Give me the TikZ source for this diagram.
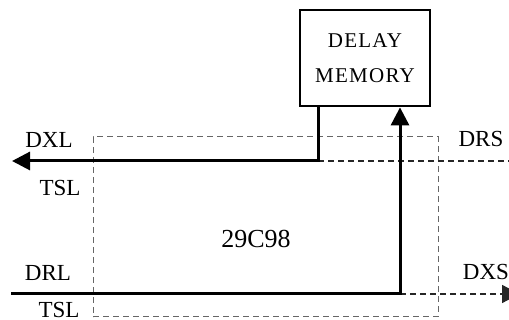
\documentclass[tikz,border=0pt]{standalone}
\usepackage{fontspec}
\setmainfont{Liberation Serif}
\usetikzlibrary{arrows.meta,positioning}

\begin{document}
\begin{tikzpicture}[x=0.5pt, y=-0.5pt,
  membox/.style={draw, line width=1.4pt, minimum width=65pt, minimum height=48pt,
    align=center, font=\fontsize{10.5}{17.5}\selectfont\addfontfeature{LetterSpace=6}},
  chipbox/.style={draw=black!60, densely dashed, line width=0.5pt,
    minimum width=172.5pt, minimum height=90pt, inner sep=0pt},
  sig/.style={line width=1.5pt},
  dsh/.style={densely dashed, line width=0.6pt, draw=black!85},
  tip/.style={-{Triangle[length=9pt,width=9pt]}},
  lbl/.style={font=\fontsize{11.5}{13}\selectfont, inner sep=0pt}]
\useasboundingbox (0,0) rectangle (509,320);
\clip (0,0) rectangle (509,320);
% blocks
\node[membox] (mem) at (365,58) {DELAY\\MEMORY};
\node[chipbox] (chip) at (265.5,227) {};
\node[lbl, font=\fontsize{13}{15}\selectfont] (name) at (256,239) {29C98};
% pin labels
\node[lbl] (dxl) at (49,140) {DXL};
\node[lbl] (tslA) at (60,188) {TSL};
\node[lbl] (drl) at (48,273) {DRL};
\node[lbl] (tslB) at (59,310) {TSL};
\node[lbl] (drs) at (481,139) {DRS};
\node[lbl] (dxs) at (486,272) {DXS};
% end points
\coordinate (dxlEnd) at (12,161);
\coordinate (tap) at (318,161);
\coordinate (drsEnd) at (509,161);
\coordinate (drlStart) at (11,294);
\coordinate (turn) at (400,294);
\coordinate (dxsEnd) at (520,294);
% connectors
\draw[dsh] (tap) -- (drsEnd);
\draw[sig, tip] (mem.south -| tap) -- (tap) -- (dxlEnd);
\draw[dsh, tip] (turn) -- (dxsEnd);
\draw[sig, tip] (drlStart) -- (turn) -- (turn |- mem.south);
\end{tikzpicture}
\end{document}
